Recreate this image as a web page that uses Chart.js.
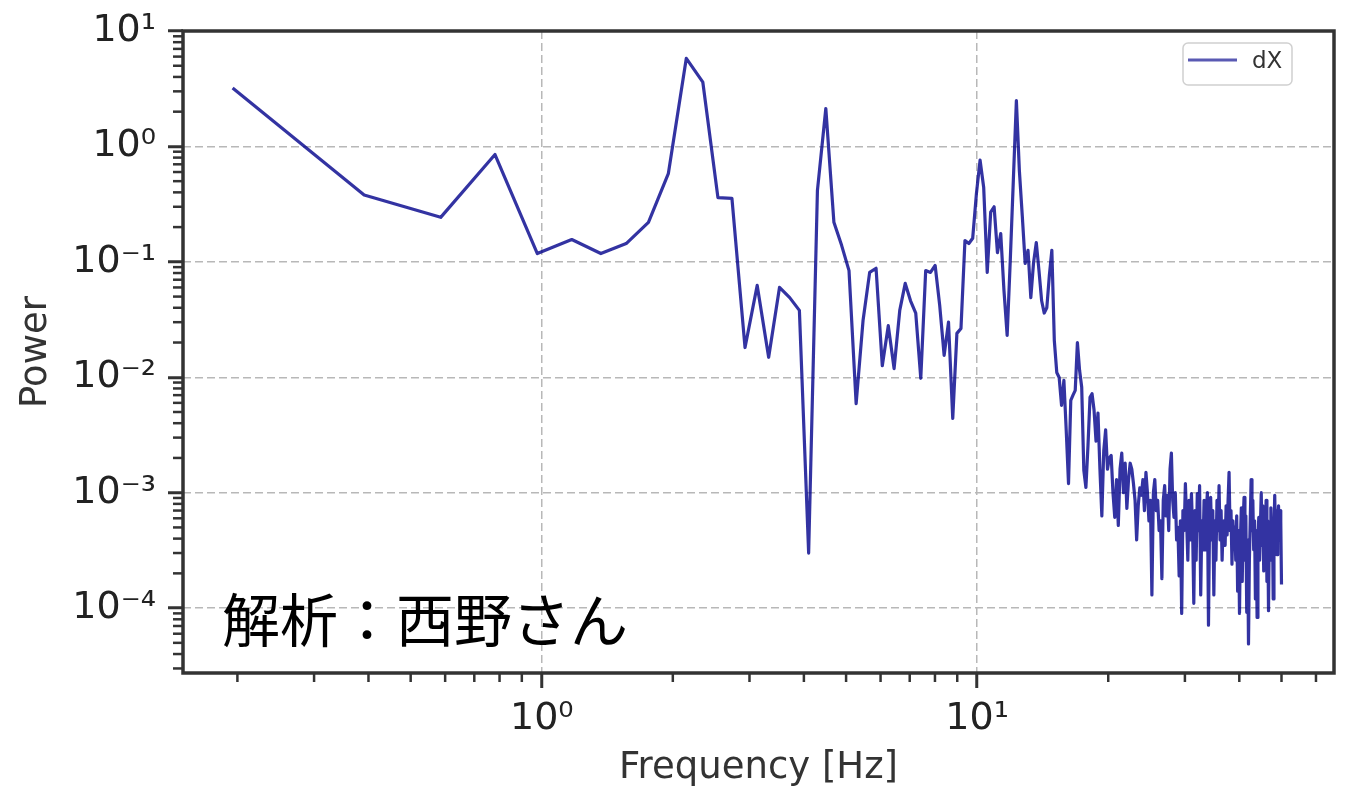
<!DOCTYPE html>
<html>
<head>
<meta charset="utf-8">
<script src="https://cdn.jsdelivr.net/npm/chart.js@4.4.0/dist/chart.umd.min.js"></script>
<style>
  html, body { margin: 0; padding: 0; background: #fff; }
  #wrap { position: relative; width: 1353px; height: 787px; }
  #note {
    position: absolute; left: 222px; top: 588px;
    font-family: "Noto Sans CJK JP", sans-serif; font-size: 58px; line-height: 58px;
    color: #000; white-space: nowrap;
  }
</style>
</head>
<body>
<div id="wrap">
  <canvas id="psdChart" width="1353" height="787"></canvas>
  <div id="note">解析：西野さん</div>
</div>
<script>
// Power spectrum of dX, log-log (FFT bins, 0.195 Hz spacing up to 50 Hz)
const freqs = [
  0.195, 0.391, 0.586, 0.781, 0.977, 1.172, 1.367, 1.563, 1.758, 1.953,
  2.148, 2.344, 2.539, 2.734, 2.930, 3.125, 3.320, 3.516, 3.711, 3.906,
  4.102, 4.297, 4.492, 4.688, 4.883, 5.078, 5.273, 5.469, 5.664, 5.859,
  6.055, 6.250, 6.445, 6.641, 6.836, 7.031, 7.227, 7.422, 7.617, 7.813,
  8.008, 8.203, 8.398, 8.594, 8.789, 8.984, 9.180, 9.375, 9.570, 9.766,
  9.961, 10.156, 10.352, 10.547, 10.742, 10.938, 11.133, 11.328, 11.523, 11.719,
  11.914, 12.109, 12.305, 12.500, 12.695, 12.891, 13.086, 13.281, 13.477, 13.672,
  13.867, 14.063, 14.258, 14.453, 14.648, 14.844, 15.039, 15.234, 15.430, 15.625,
  15.820, 16.016, 16.211, 16.406, 16.602, 16.797, 16.992, 17.188, 17.383, 17.578,
  17.773, 17.969, 18.164, 18.359, 18.555, 18.750, 18.945, 19.141, 19.336, 19.531,
  19.727, 19.922, 20.117, 20.313, 20.508, 20.703, 20.898, 21.094, 21.289, 21.484,
  21.680, 21.875, 22.070, 22.266, 22.461, 22.656, 22.852, 23.047, 23.242, 23.438,
  23.633, 23.828, 24.023, 24.219, 24.414, 24.609, 24.805, 25.000, 25.195, 25.391,
  25.586, 25.781, 25.977, 26.172, 26.367, 26.563, 26.758, 26.953, 27.148, 27.344,
  27.539, 27.734, 27.930, 28.125, 28.320, 28.516, 28.711, 28.906, 29.102, 29.297,
  29.492, 29.688, 29.883, 30.078, 30.273, 30.469, 30.664, 30.859, 31.055, 31.250,
  31.445, 31.641, 31.836, 32.031, 32.227, 32.422, 32.617, 32.813, 33.008, 33.203,
  33.398, 33.594, 33.789, 33.984, 34.180, 34.375, 34.570, 34.766, 34.961, 35.156,
  35.352, 35.547, 35.742, 35.938, 36.133, 36.328, 36.523, 36.719, 36.914, 37.109,
  37.305, 37.500, 37.695, 37.891, 38.086, 38.281, 38.477, 38.672, 38.867, 39.063,
  39.258, 39.453, 39.648, 39.844, 40.039, 40.234, 40.430, 40.625, 40.820, 41.016,
  41.211, 41.406, 41.602, 41.797, 41.992, 42.188, 42.383, 42.578, 42.773, 42.969,
  43.164, 43.359, 43.555, 43.750, 43.945, 44.141, 44.336, 44.531, 44.727, 44.922,
  45.117, 45.313, 45.508, 45.703, 45.898, 46.094, 46.289, 46.484, 46.680, 46.875,
  47.070, 47.266, 47.461, 47.656, 47.852, 48.047, 48.242, 48.438, 48.633, 48.828,
  49.023, 49.219, 49.414, 49.609, 49.805, 50.000
];

const power = [
  3.2, 0.38, 0.243, 0.85, 0.118, 0.156, 0.118, 0.144, 0.22, 0.58,
  5.8, 3.6, 0.36, 0.355, 0.0181, 0.0625, 0.0149, 0.060, 0.049, 0.038,
  3.0e-4, 0.416, 2.13, 0.22, 0.139, 0.084, 0.0059, 0.031, 0.081, 0.088,
  0.0126, 0.028, 0.0119, 0.038, 0.065, 0.046, 0.036, 0.0098, 0.084, 0.081,
  0.093, 0.042, 0.0155, 0.030, 0.0044, 0.024, 0.0265, 0.153, 0.144, 0.16,
  0.39, 0.76, 0.44, 0.081, 0.27, 0.30, 0.12, 0.176, 0.0565, 0.023,
  0.103, 0.51, 2.5, 0.62, 0.25, 0.097, 0.126, 0.049, 0.099, 0.147,
  0.084, 0.046, 0.036, 0.040, 0.076, 0.126, 0.0208, 0.011, 0.00995, 0.0057,
  0.0094, 0.00346, 0.0012, 0.0063, 0.0070, 0.0077, 0.020, 0.0115, 0.0082, 0.00156,
  0.00111, 0.00256, 0.0067, 0.0072, 5.2e-3, 2.8e-3, 4.9e-3, 1.6e-3, 6.3e-4, 2.3e-3,
  3.5e-3, 1.6e-3, 2.0e-3, 2.1e-3, 1.0e-3, 6.1e-4, 1.3e-3, 5.2e-4, 1.6e-3, 2.2e-3,
  1.0e-3, 1.8e-3, 7.3e-4, 1.3e-3, 1.8e-3, 1.6e-3, 1.2e-3, 8.6e-4, 3.9e-4, 7.7e-4,
  1.1e-3, 9.5e-4, 1.3e-3, 7.0e-4, 1.5e-3, 1.0e-3, 5.7e-4, 8.6e-4, 1.3e-4, 1.0e-3,
  1.3e-3, 7.0e-4, 8.6e-4, 4.7e-4, 5.7e-4, 1.8e-4, 8.6e-4, 1.15e-3, 6.3e-4, 9.5e-4,
  4.7e-4, 1.6e-3, 2.2e-3, 8.6e-4, 6.1e-4, 1.0e-3, 3.9e-4, 5.0e-4, 1.9e-4, 5.7e-4,
  9.0e-5, 7.0e-4, 4.7e-4, 1.2e-3, 5.7e-4, 2.6e-4, 8.6e-4, 3.9e-4, 9.8e-4, 4.7e-4,
  1.1e-4, 7.0e-4, 2.6e-4, 9.8e-4, 4.7e-4, 1.15e-3, 1.3e-4, 5.7e-4, 3.2e-4, 8.6e-4,
  3.2e-4, 7.0e-4, 1.0e-3, 7.1e-5, 5.7e-4, 9.1e-4, 3.9e-4, 7.0e-4, 1.3e-4, 5.7e-4,
  2.6e-4, 8.6e-4, 4.7e-4, 1.15e-3, 3.9e-4, 7.0e-4, 2.6e-4, 5.2e-4, 5.7e-4, 3.5e-4,
  7.7e-4, 4.3e-4, 8.6e-4, 1.5e-3, 4.7e-4, 7.0e-4, 2.4e-4, 5.7e-4, 3.5e-4, 5.0e-4,
  2.6e-4, 6.3e-4, 1.4e-4, 4.7e-4, 9.0e-5, 3.9e-4, 7.4e-4, 1.7e-4, 5.7e-4, 9.1e-4,
  2.6e-4, 6.3e-4, 9.2e-5, 3.9e-4, 4.9e-5, 2.6e-4, 5.7e-4, 1.3e-3, 4.7e-4, 8.6e-4,
  3.2e-4, 5.7e-4, 1.2e-4, 4.7e-4, 8.3e-5, 3.9e-4, 6.1e-4, 2.6e-4, 5.2e-4, 1.0e-3,
  3.5e-4, 7.7e-4, 2.1e-4, 6.3e-4, 3.9e-4, 8.6e-4, 1.7e-4, 5.7e-4, 9.5e-5, 4.7e-4,
  2.6e-4, 7.4e-4, 3.5e-4, 5.7e-4, 1.2e-4, 4.7e-4, 9.5e-4, 3.9e-4, 7.0e-4, 2.9e-4,
  5.7e-4, 7.7e-4, 3.9e-4, 7.0e-4, 5.7e-4, 1.6e-4
];

const seriesLabel = 'dX';
const xRange = [0.15, 66];
const yRange = [2.74e-5, 10];

const lineColor = 'rgba(0, 0, 139, 0.8)';
const frameColor = '#333333';
const gridColor = '#b8b8b8';

const SUP = { '-': '\u207b', '0': '\u2070', '1': '\u00b9', '2': '\u00b2', '3': '\u00b3', '4': '\u2074', '5': '\u2075' };

function isDecade(v) {
  const e = Math.log10(v);
  return Math.abs(e - Math.round(e)) < 1e-9;
}

function decadeLabel(v) {
  if (!isDecade(v)) return '';
  const e = String(Math.round(Math.log10(v)));
  return '10' + e.split('').map(c => SUP[c]).join('');
}

// 1..9 x 10^n inside the range
function logTicks(min, max) {
  const out = [];
  for (let e = Math.floor(Math.log10(min)); e <= Math.ceil(Math.log10(max)); e++) {
    for (let m = 1; m <= 9; m++) {
      const v = +(m * Math.pow(10, e)).toPrecision(6);
      if (v >= min && v <= max) out.push({ value: v });
    }
  }
  return out;
}

const tickFont = { family: 'DejaVu Sans', size: 38, lineHeight: 1.0 };
const titleFont = { family: 'DejaVu Sans', size: 37, lineHeight: 1.0 };

function axisOpts(extra) {
  return Object.assign({
    type: 'logarithmic',
    afterBuildTicks: s => { s.ticks = logTicks(s.min, s.max); },
    ticks: {
      autoSkip: false, maxRotation: 0, minRotation: 0, padding: 12,
      color: '#222', font: tickFont,
      callback: v => decadeLabel(v)
    },
    grid: {
      color: c => (c.tick && isDecade(c.tick.value)) ? gridColor : 'rgba(0,0,0,0)',
      lineWidth: 1.5,
      tickLength: 15,
      tickWidth: 3,
      tickColor: c => (c.tick && isDecade(c.tick.value)) ? frameColor : 'rgba(0,0,0,0)',
      tickBorderDash: []
    },
    border: { display: false, dash: [8, 4] }
  }, extra);
}

// minor tick marks (shorter) and the box round the plot
const framePlugin = {
  id: 'frame',
  afterDatasetsDraw(chart) {
    const { ctx, chartArea: a, scales } = chart;
    ctx.save();
    ctx.strokeStyle = frameColor;
    ctx.lineWidth = 2.5;
    scales.x.ticks.forEach(t => {
      if (isDecade(t.value)) return;
      const px = scales.x.getPixelForValue(t.value);
      ctx.beginPath(); ctx.moveTo(px, a.bottom); ctx.lineTo(px, a.bottom + 9); ctx.stroke();
    });
    scales.y.ticks.forEach(t => {
      if (isDecade(t.value)) return;
      const py = scales.y.getPixelForValue(t.value);
      ctx.beginPath(); ctx.moveTo(a.left, py); ctx.lineTo(a.left - 10, py); ctx.stroke();
    });
    ctx.lineWidth = 3.5;
    ctx.strokeRect(a.left, a.top, a.right - a.left, a.bottom - a.top);
    ctx.restore();
  }
};

const legendPlugin = {
  id: 'boxLegend',
  afterDraw(chart) {
    const { ctx, chartArea: a } = chart;
    const w = 109, h = 42;
    const x = a.right - 42 - w, y = a.top + 12;
    ctx.save();
    ctx.fillStyle = 'rgba(255,255,255,0.85)';
    ctx.strokeStyle = '#d0d0d0';
    ctx.lineWidth = 1.5;
    ctx.beginPath();
    ctx.roundRect(x, y, w, h, 5);
    ctx.fill(); ctx.stroke();
    ctx.strokeStyle = 'rgba(0, 0, 139, 0.65)';
    ctx.lineWidth = 3;
    ctx.beginPath(); ctx.moveTo(x + 5, y + 17); ctx.lineTo(x + 54, y + 17); ctx.stroke();
    ctx.fillStyle = '#333';
    ctx.font = '23px "DejaVu Sans"';
    ctx.textBaseline = 'middle';
    ctx.fillText(seriesLabel, x + 69, y + 19);
    ctx.restore();
  }
};

new Chart(document.getElementById('psdChart'), {
  type: 'line',
  data: {
    datasets: [{
      label: seriesLabel,
      data: freqs.map((f, i) => ({ x: f, y: power[i] })),
      borderColor: lineColor,
      borderWidth: 3.2,
      pointRadius: 0,
      tension: 0,
      fill: false,
      borderJoinStyle: 'round'
    }]
  },
  options: {
    responsive: false,
    devicePixelRatio: 1,
    animation: false,
    layout: { padding: { left: 0, top: 31, right: 19, bottom: 0 } },
    plugins: { legend: { display: false }, tooltip: { enabled: false } },
    scales: {
      x: axisOpts({
        position: 'bottom', min: xRange[0], max: xRange[1],
        afterFit: s => { s.height = 114; },
        title: { display: true, text: 'Frequency [Hz]', color: '#333', font: titleFont, padding: { top: 0, bottom: 0 } }
      }),
      y: axisOpts({
        position: 'left', min: yRange[0], max: yRange[1],
        afterFit: s => { s.width = 183; },
        title: { display: true, text: 'Power', color: '#333', font: titleFont, padding: { top: 18, bottom: 0 } }
      })
    }
  },
  plugins: [framePlugin, legendPlugin]
});
</script>
</body>
</html>
